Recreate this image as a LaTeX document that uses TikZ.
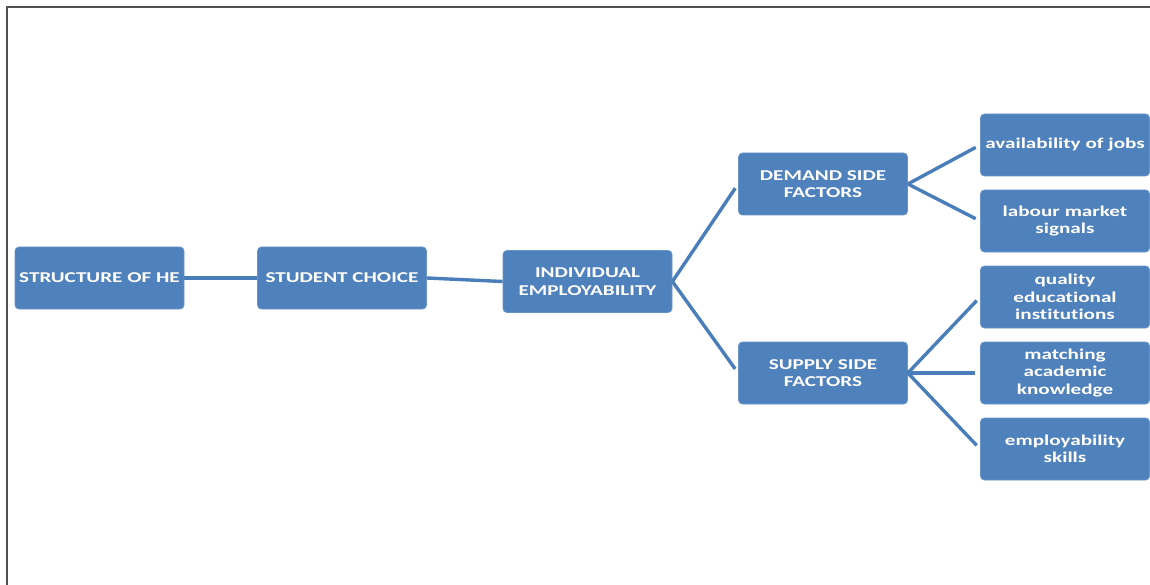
\documentclass[tikz,border=0pt]{standalone}
\usepackage{fontspec}
\newfontfamily\boxfont[FakeStretch=1.41,RawFeature=-liga]{Carlito}
\definecolor{boxblue}{HTML}{4F81BD}
\definecolor{linkblue}{HTML}{4A7EBB}
\definecolor{framegray}{HTML}{505050}
\begin{document}
\begin{tikzpicture}[x=1pt,y=-1pt,
  box/.style={rectangle, rounded corners=4pt, fill=boxblue, draw=boxblue!85!white, line width=0.8pt,
    minimum width=169pt, minimum height=62pt, inner sep=2pt, align=center,
    text=white, font=\boxfont\bfseries\fontsize{15}{17.5}\selectfont},
  link/.style={draw=linkblue, line width=3.4pt},
  branch/.style={link, shorten >=5pt}
]
\useasboundingbox (0,0) rectangle (1150,585);
\draw[framegray, line width=2pt] (7,585) -- (7,7) -- (1150,7);

\node[box] (he) at (99.5,278) {STRUCTURE OF HE};
\node[box] (sc) at (342,278) {STUDENT CHOICE};
\node[box] (ie) at (587.5,281.5) {INDIVIDUAL\\EMPLOYABILITY};
\node[box] (dsf) at (823,184) {DEMAND SIDE\\FACTORS};
\node[box] (ssf) at (823,373) {SUPPLY SIDE\\FACTORS};
\node[box] (aj) at (1065,145) {availability of jobs};
\node[box] (lm) at (1065,221) {labour market\\signals};
\node[box] (qe) at (1065,297) {quality\\educational\\institutions};
\node[box] (ma) at (1065,373) {matching\\academic\\knowledge};
\node[box] (es) at (1065,449) {employability\\skills};

\draw[link] (he.east) -- (sc.west);
\draw[link] (sc.east) -- (ie.west);
\draw[branch] (ie.east) -- (dsf.west);
\draw[branch] (ie.east) -- (ssf.west);
\draw[branch] (dsf.east) -- (aj.west);
\draw[branch] (dsf.east) -- (lm.west);
\draw[branch] (ssf.east) -- (qe.west);
\draw[branch] (ssf.east) -- (ma.west);
\draw[branch] (ssf.east) -- (es.west);
\end{tikzpicture}
\end{document}
